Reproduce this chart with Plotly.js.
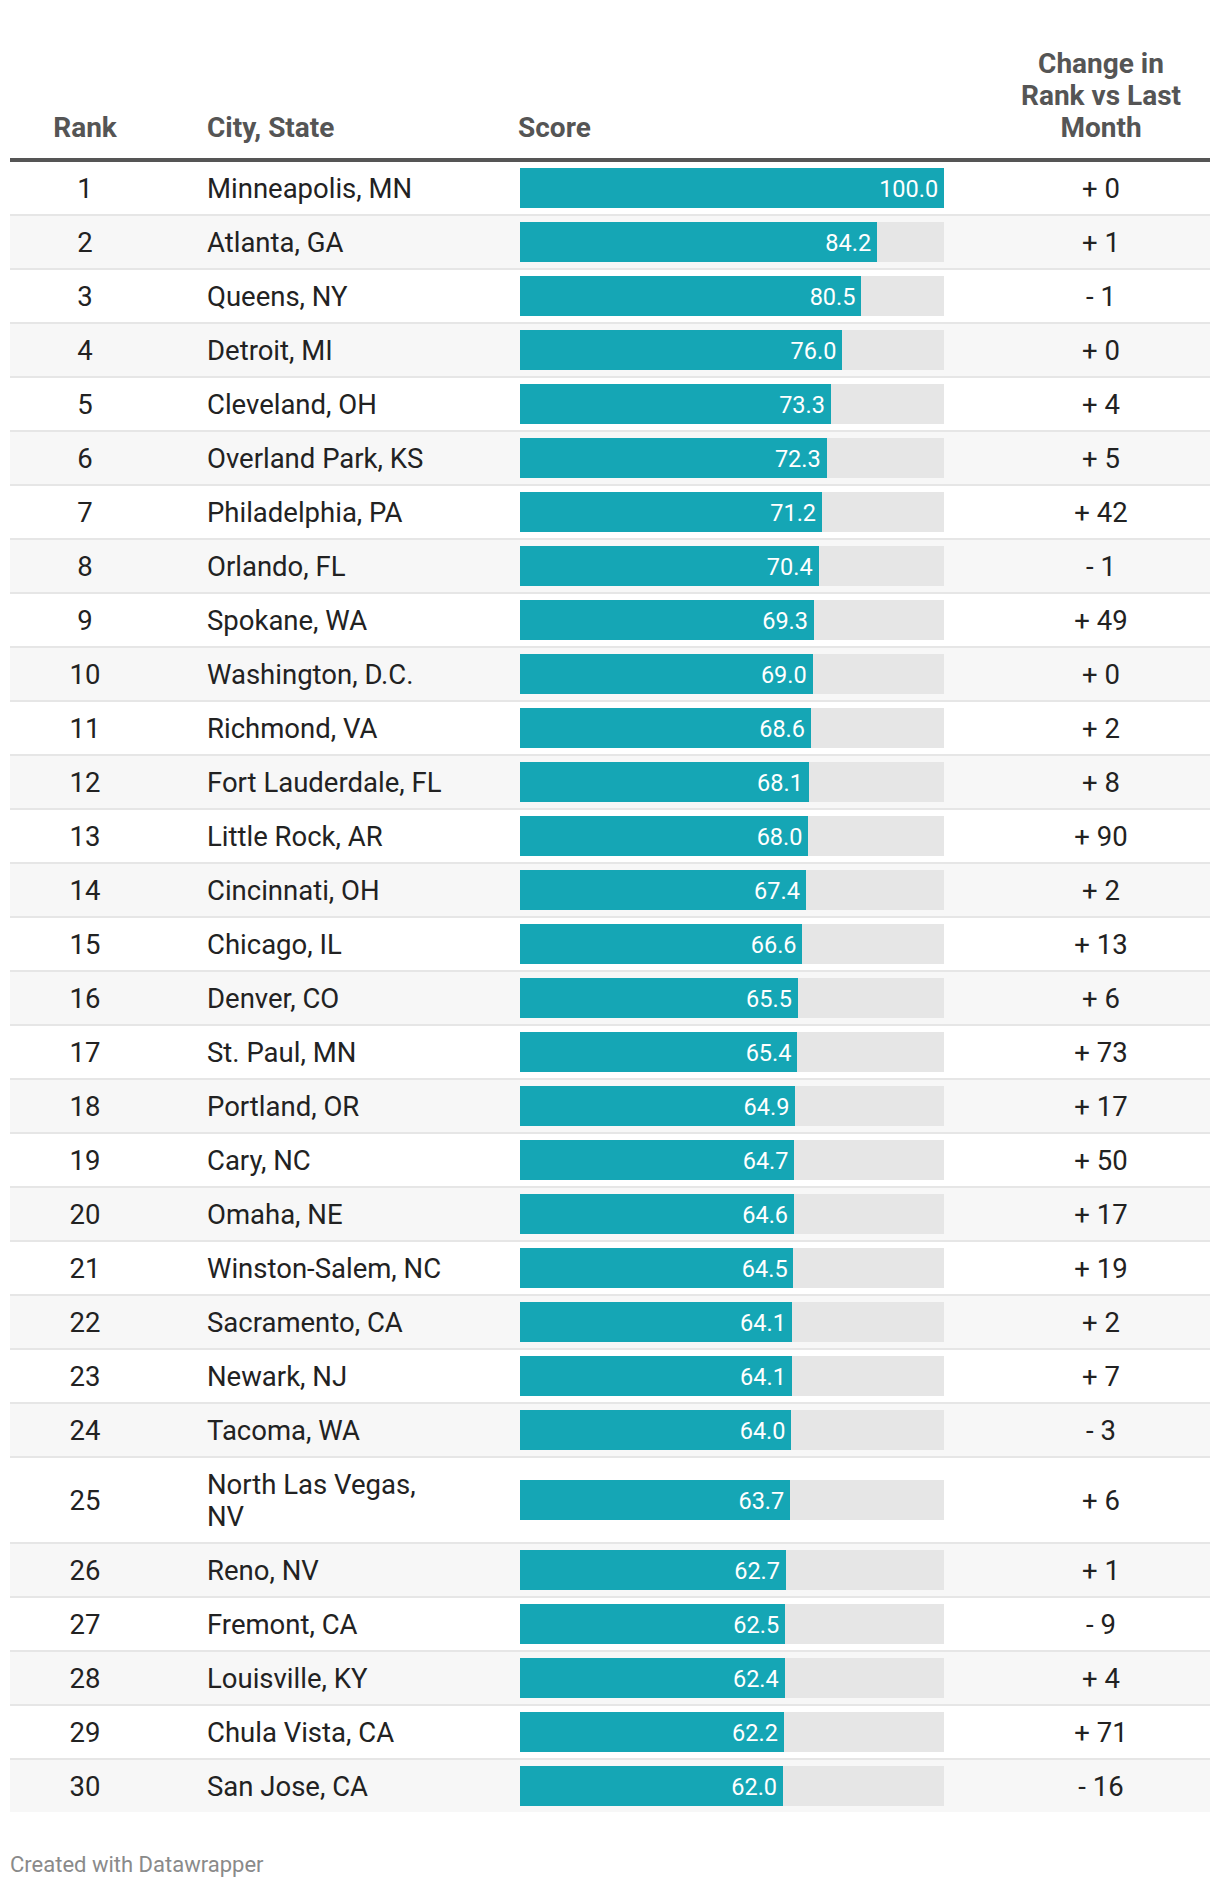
<!DOCTYPE html>
<html><head><meta charset="utf-8">
<script src="https://cdn.plot.ly/plotly-3.0.1.min.js"></script>
<style>html,body{margin:0;padding:0;background:#fff}#chart{width:1220px;height:1888px}</style>
</head><body><div id="chart"></div>
<script>
// ---------- data ----------
const ranks = [1,2,3,4,5,6,7,8,9,10,11,12,13,14,15,16,17,18,19,20,21,22,23,24,25,26,27,28,29,30];
const cities = ["Minneapolis, MN","Atlanta, GA","Queens, NY","Detroit, MI","Cleveland, OH","Overland Park, KS","Philadelphia, PA","Orlando, FL","Spokane, WA","Washington, D.C.","Richmond, VA","Fort Lauderdale, FL","Little Rock, AR","Cincinnati, OH","Chicago, IL","Denver, CO","St. Paul, MN","Portland, OR","Cary, NC","Omaha, NE","Winston-Salem, NC","Sacramento, CA","Newark, NJ","Tacoma, WA","North Las Vegas,<br>NV","Reno, NV","Fremont, CA","Louisville, KY","Chula Vista, CA","San Jose, CA"];
const scores = [100.0,84.2,80.5,76.0,73.3,72.3,71.2,70.4,69.3,69.0,68.6,68.1,68.0,67.4,66.6,65.5,65.4,64.9,64.7,64.6,64.5,64.1,64.1,64.0,63.7,62.7,62.5,62.4,62.2,62.0];
const rankChanges = [0,1,-1,0,4,5,42,-1,49,0,2,8,90,2,13,6,73,17,50,17,19,2,7,-3,6,1,-9,4,71,-16];
const headerRank = "Rank";
const headerCity = "City, State";
const headerScore = "Score";
const headerChange = ["Change in","Rank vs Last","Month"];
const footerText = "Created with Datawrapper";
const SCORE_MAX = 100;

// ---------- layout constants ----------
const W = 1220, H = 1888;
const TABLE_L = 10, TABLE_R = 1210;
const BAR_L = 520, BAR_R = 944;
const COL_RANK = 85, COL_CITY = 207, COL_SCORE = 518, COL_CHANGE = 1101;
const HEADER_Y = 126.2, HEADER_LINE = 32;
const RULE_TOP = 158, RULE_BOT = 162, BODY_TOP = 162;
const ROW_H = 54, LINE_H = 32, SEP = 2, BAR_H = 40;
const TEXT_DY = 3.3;
const FOOT_Y = 1863;
const BODY_SIZE = 27.5, HEAD_SIZE = 28, LABEL_SIZE = 23.5, FOOT_SIZE = 22;
const FONT = "Roboto, 'Noto Sans', Arial, sans-serif";
const TEAL = "#15a6b5", TRACK = "#e6e6e6", STRIPE = "#f7f7f7", SEPC = "#e6e6e6";
const BODY_C = "#222222", HEAD_C = "#555555";

// ---------- row geometry ----------
const rowTop = [], rowH = [], rowC = [];
let cur = BODY_TOP;
cities.forEach(c => {
  const n = c.split("<br>").length;
  const h = ROW_H + LINE_H * (n - 1);
  rowTop.push(cur); rowH.push(h); rowC.push(cur + (h - SEP) / 2);
  cur += h;
});
const n = ranks.length;
const idx = ranks.map((_, i) => i);
const stripeIdx = idx.filter(i => i % 2 === 1);
const sepIdx = idx.filter(i => i < n - 1);

const fmtChange = v => (v < 0 ? "- " + Math.abs(v) : "+ " + v);

const traces = [];
// alternating row stripes
traces.push({type:"bar", orientation:"h", xaxis:"x", yaxis:"y",
  y: stripeIdx.map(i => rowC[i]), x: stripeIdx.map(() => TABLE_R - TABLE_L), base: TABLE_L,
  width: stripeIdx.map(i => rowH[i] - SEP), marker:{color:STRIPE}, hoverinfo:"skip"});
// row separators
traces.push({type:"bar", orientation:"h", xaxis:"x", yaxis:"y",
  y: sepIdx.map(i => rowTop[i] + rowH[i] - SEP / 2), x: sepIdx.map(() => TABLE_R - TABLE_L), base: TABLE_L,
  width: SEP, marker:{color:SEPC}, hoverinfo:"skip"});
// score track
traces.push({type:"bar", orientation:"h", xaxis:"x2", yaxis:"y",
  y: rowC, x: scores.map(() => SCORE_MAX), width: BAR_H, marker:{color:TRACK}, hoverinfo:"skip"});
// score bars
traces.push({type:"bar", orientation:"h", xaxis:"x2", yaxis:"y",
  y: rowC, x: scores, width: BAR_H, marker:{color:TEAL}, hoverinfo:"skip"});
// score labels
traces.push({type:"scatter", mode:"text", xaxis:"x2", yaxis:"y",
  x: scores, y: rowC.map(v => v + TEXT_DY - 0.3), text: scores.map(v => v.toFixed(1) + "\u00a0"),
  textposition:"middle left", textfont:{family:FONT, size:LABEL_SIZE, color:"#ffffff"}, cliponaxis:false, hoverinfo:"skip"});
// rank column
traces.push({type:"scatter", mode:"text", xaxis:"x", yaxis:"y",
  x: ranks.map(() => COL_RANK), y: rowC.map(v => v + TEXT_DY), text: ranks.map(String),
  textposition:"middle center", textfont:{family:FONT, size:BODY_SIZE, color:BODY_C}, hoverinfo:"skip"});
// city column (each wrapped line placed separately)
const cx = [], cy = [], ct = [];
cities.forEach((c, i) => {
  const lines = c.split("<br>");
  lines.forEach((t, k) => {
    cx.push(COL_CITY);
    cy.push(rowC[i] + TEXT_DY + (k - (lines.length - 1) / 2) * LINE_H);
    ct.push(t);
  });
});
traces.push({type:"scatter", mode:"text", xaxis:"x", yaxis:"y",
  x: cx, y: cy, text: ct, textposition:"middle right",
  textfont:{family:FONT, size:BODY_SIZE, color:BODY_C}, hoverinfo:"skip"});
// change column
traces.push({type:"scatter", mode:"text", xaxis:"x", yaxis:"y",
  x: rankChanges.map(() => COL_CHANGE), y: rowC.map(v => v + TEXT_DY), text: rankChanges.map(fmtChange),
  textposition:"middle center", textfont:{family:FONT, size:BODY_SIZE, color:BODY_C}, hoverinfo:"skip"});
// headers
traces.push({type:"scatter", mode:"text", xaxis:"x", yaxis:"y",
  x: [COL_RANK], y: [HEADER_Y + TEXT_DY], text: ["<b>" + headerRank + "</b>"], textposition:"middle center",
  textfont:{family:FONT, size:HEAD_SIZE, color:HEAD_C}, hoverinfo:"skip"});
traces.push({type:"scatter", mode:"text", xaxis:"x", yaxis:"y",
  x: [COL_CITY, COL_SCORE], y: [HEADER_Y + TEXT_DY, HEADER_Y + TEXT_DY],
  text: ["<b>" + headerCity + "</b>", "<b>" + headerScore + "</b>"], textposition:"middle right",
  textfont:{family:FONT, size:HEAD_SIZE, color:HEAD_C}, hoverinfo:"skip"});
traces.push({type:"scatter", mode:"text", xaxis:"x", yaxis:"y",
  x: headerChange.map(() => COL_CHANGE),
  y: headerChange.map((_, k) => HEADER_Y + TEXT_DY - (headerChange.length - 1 - k) * HEADER_LINE),
  text: headerChange.map(t => "<b>" + t + "</b>"), textposition:"middle center",
  textfont:{family:FONT, size:HEAD_SIZE, color:HEAD_C}, hoverinfo:"skip"});
// footer
traces.push({type:"scatter", mode:"text", xaxis:"x", yaxis:"y",
  x: [TABLE_L], y: [FOOT_Y + TEXT_DY], text: [footerText], textposition:"middle right",
  textfont:{family:FONT, size:FOOT_SIZE, color:"#8a8a8a"}, hoverinfo:"skip"});

const layout = {
  width: W, height: H, margin:{l:0, r:0, t:0, b:0, pad:0},
  paper_bgcolor:"#ffffff", plot_bgcolor:"rgba(0,0,0,0)",
  showlegend:false, barmode:"overlay", bargap:0,
  font:{family:FONT},
  xaxis:{domain:[0,1], range:[0,W], visible:false, fixedrange:true},
  xaxis2:{domain:[BAR_L / W, BAR_R / W], range:[0, SCORE_MAX], anchor:"y", visible:false, fixedrange:true},
  yaxis:{domain:[0,1], range:[H,0], visible:false, fixedrange:true},
  shapes:[{type:"rect", xref:"x", yref:"y", x0:TABLE_L, x1:TABLE_R, y0:RULE_TOP, y1:RULE_BOT,
    fillcolor:HEAD_C, line:{width:0}, layer:"below"}]
};
Plotly.newPlot("chart", traces, layout, {staticPlot:true, displayModeBar:false});
</script></body></html>
